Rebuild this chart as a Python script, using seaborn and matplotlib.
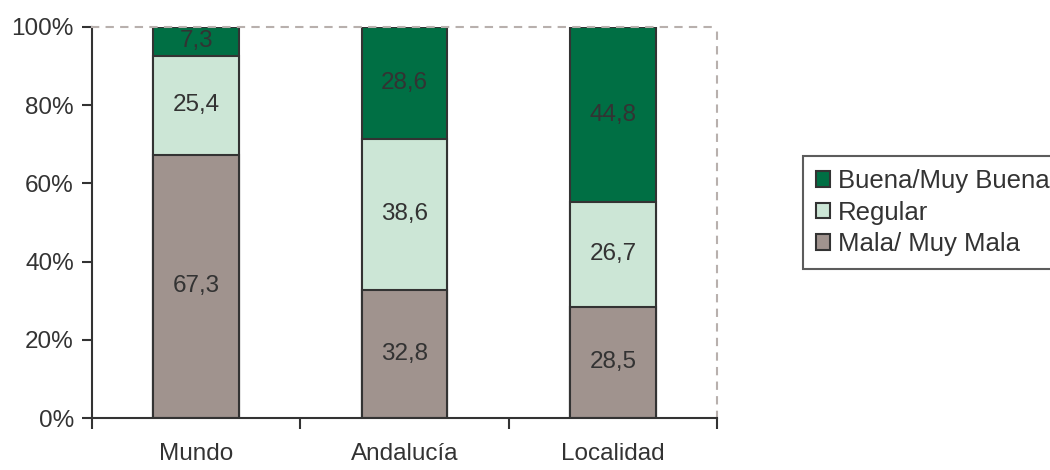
import pandas as pd
import numpy as np
import seaborn as sns
import matplotlib.pyplot as plt
from matplotlib.patches import Patch

# data
categorias = ["Mundo", "Andalucía", "Localidad"]
mala = [67.3, 32.8, 28.5]
regular = [25.4, 38.6, 26.7]
buena = [7.3, 28.6, 44.8]
series = ["Buena/Muy Buena", "Regular", "Mala/ Muy Mala"]
colores = ["#006F44", "#CCE6D6", "#A0938E"]
yticks = [0, 20, 40, 60, 80, 100]

sns.set_theme(style="white")
plt.rcParams['font.family'] = ['Liberation Sans', 'DejaVu Sans']
texto = "#333333"
fs = 17.5

df = pd.DataFrame({"cat": categorias, "mala": mala, "regular": regular, "buena": buena})
df["c1"] = df["mala"]
df["c2"] = df["mala"] + df["regular"]
df["c3"] = df["c2"] + df["buena"]

fig = plt.figure(figsize=(10.5, 4.7), dpi=100)
ax = fig.add_axes([0.0876, 0.1106, 0.5954, 0.832])

# stacked bars: draw tallest cumulative first
for col, color in [("c3", colores[0]), ("c2", colores[1]), ("c1", colores[2])]:
    sns.barplot(data=df, x="cat", y=col, color=color, width=0.41,
                edgecolor="#333333", linewidth=1.5, saturation=1, ax=ax)

# value labels centered in each segment
for i in range(len(categorias)):
    bottoms = [0, df["c1"][i], df["c2"][i]]
    vals = [mala[i], regular[i], buena[i]]
    for b, v in zip(bottoms, vals):
        ax.text(i, b + v / 2, f"{v:.1f}".replace(".", ","), ha="center", va="center",
                fontsize=fs, color=texto)

ax.set_xlim(-0.5, 2.5)
ax.set_ylim(0, 100)
ax.set_yticks(yticks)
ax.set_yticklabels([f"{t}%" for t in yticks], fontsize=fs, color=texto)
ax.set_xticks(range(len(categorias)))
ax.set_xticklabels(categorias, fontsize=fs, color=texto)
ax.set_xticks([-0.5, 0.5, 1.5, 2.5], minor=True)
ax.tick_params(axis="x", which="major", bottom=True, length=0, pad=18)
ax.tick_params(axis="x", which="minor", bottom=True, length=8, width=1.5,
               color="#333333", direction="out")
ax.tick_params(axis="y", left=True, length=7, width=1.5, color="#333333",
               direction="out", pad=6)
ax.set_xlabel("")
ax.set_ylabel("")

for s in ["left", "bottom"]:
    ax.spines[s].set_color("#333333")
    ax.spines[s].set_linewidth(1.5)
for s in ["top", "right"]:
    ax.spines[s].set_color("#B8B0AD")
    ax.spines[s].set_linewidth(1.5)
    ax.spines[s].set_linestyle((0, (3, 4)))

handles = [Patch(facecolor=c, edgecolor="#333333", linewidth=1.5) for c in colores]
leg = fig.legend(handles, series, loc="upper left", bbox_to_anchor=(0.765, 0.668),
                 frameon=True, fancybox=False, fontsize=18.5, handlelength=0.55,
                 handleheight=0.55, handletextpad=0.3, labelspacing=0.3,
                 borderpad=0.5, borderaxespad=0)
leg.get_frame().set_edgecolor("#333333")
leg.get_frame().set_linewidth(1.5)
for t in leg.get_texts():
    t.set_color(texto)

fig.savefig("out.png", dpi=100)
